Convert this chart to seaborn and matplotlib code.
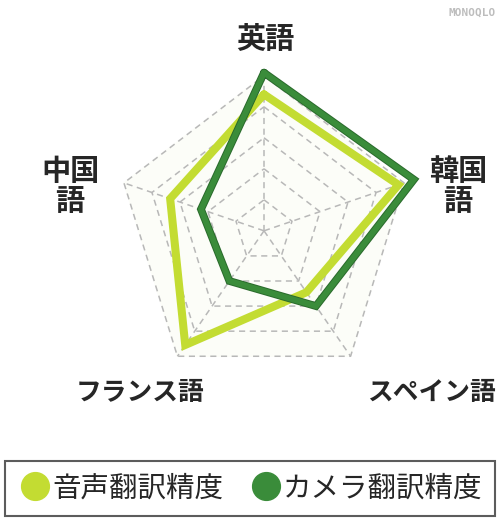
import numpy as np
import pandas as pd
import matplotlib
matplotlib.use("Agg")
import matplotlib.pyplot as plt
import matplotlib.patheffects as pe
from matplotlib.lines import Line2D
import seaborn as sns

# radar data (grid levels 1..5)
categories = ["英語", "韓国語", "スペイン語", "フランス語", "中国語"]
label_text = ["英語", "韓国\n語", "スペイン語", "フランス語", "中国\n語"]
voice_acc = [4.4, 4.8, 2.45, 4.55, 3.35]    # 音声翻訳精度
camera_acc = [5.1, 5.35, 3.0, 2.0, 2.25]    # カメラ翻訳精度
series_names = ["音声翻訳精度", "カメラ翻訳精度"]
grid_levels = [1, 2, 3, 4, 5]

light = "#c3dc32"
dark = "#3a8c3a"

sns.set_theme(style="white")
plt.rcParams["font.family"] = ["Noto Sans CJK JP", "DejaVu Sans"]

n = len(categories)
theta = np.linspace(0, 2 * np.pi, n, endpoint=False)
theta_closed = np.append(theta, theta[0])

rows = []
for name, vals in zip(series_names, [voice_acc, camera_acc]):
    for i, (t, v) in enumerate(zip(theta_closed, vals + vals[:1])):
        rows.append({"step": i, "theta": t, "value": v, "series": name})
df = pd.DataFrame(rows)

fig = plt.figure(figsize=(5.0, 5.24), dpi=100)
ax = fig.add_axes([0.204, 0.234, 0.648, 0.651], projection="polar")
ax.set_theta_offset(np.pi / 2)
ax.set_theta_direction(-1)
ax.set_aspect("auto")
ax.set_ylim(0, 5.5)
ax.grid(False)
ax.spines["polar"].set_visible(False)
ax.set_xticks([])
ax.set_yticks([])
ax.patch.set_alpha(0)

# pentagon background + dashed grid
ax.fill(theta_closed, [grid_levels[-1]] * (n + 1), color="#fcfdf8", zorder=0)
for lv in grid_levels:
    ax.plot(theta_closed, [lv] * (n + 1), ls=(0, (4, 3)), color="#b8b8b8", lw=1.1, zorder=1)
for t in theta:
    ax.plot([t, t], [0, grid_levels[-1]], ls=(0, (4, 3)), color="#b8b8b8", lw=1.1, zorder=1)

sns.lineplot(data=df[df.series == series_names[0]], x="theta", y="value", sort=False,
             estimator=None, units="series", color=light, lw=5.8, ax=ax, legend=False,
             solid_joinstyle="miter", zorder=3)
sns.lineplot(data=df[df.series == series_names[1]], x="theta", y="value", sort=False,
             estimator=None, units="series", color=dark, lw=4.2, ax=ax, legend=False,
             solid_joinstyle="miter", zorder=4,
             path_effects=[pe.Stroke(linewidth=5.6, foreground="#2a6a2c"), pe.Normal()])
ax.set_xlabel("")
ax.set_ylabel("")
for line in ax.lines:
    line.set_clip_on(False)

# axis labels
label_pos = [(265, 39), (458, 186), (431, 393), (140, 393), (70, 186)]
label_size = [21, 21, 18.5, 18.5, 21]
for txt, (px, py), fs in zip(label_text, label_pos, label_size):
    fig.text(px / 500, 1 - py / 524, txt, ha="center", va="center", fontsize=fs,
             fontweight="bold", linespacing=1.0)

# watermark
fig.text(0.992, 0.985, "MONOQLO", ha="right", va="top", fontsize=8,
         color="#bdbdbd", fontweight="bold", family="DejaVu Sans Mono")

handles = [Line2D([], [], marker="o", ls="", markersize=20, color=c) for c in [light, dark]]
leg = fig.legend(handles, series_names, loc="lower center", bbox_to_anchor=(0.5, 0.004),
                 ncol=2, fontsize=20.5, frameon=True, fancybox=False, handletextpad=0.0,
                 columnspacing=0.9, borderpad=0.45, handlelength=1.2, borderaxespad=0.2)
leg.get_frame().set_edgecolor("#333333")
leg.get_frame().set_linewidth(1.5)

fig.savefig("out.png", dpi=100, facecolor="white")
